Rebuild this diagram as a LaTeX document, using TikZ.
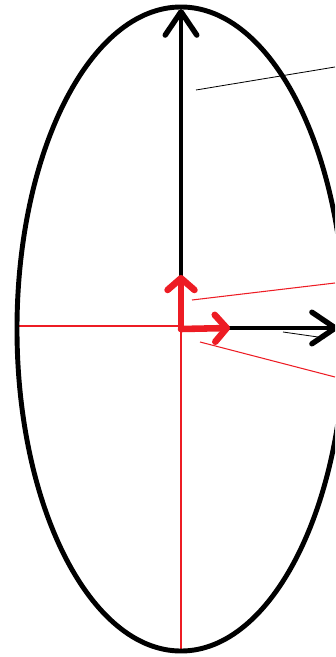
\documentclass[tikz,border=0pt]{standalone}
\usepackage{tikz}
\usetikzlibrary{arrows.meta}
\definecolor{paintred}{RGB}{237,28,36}
\tikzset{
  rimline/.style={line width=4.2pt},
  axisarr/.style={line width=3.6pt, line cap=round,
    -{Straight Barb[length=20pt,width=27pt,round,line width=4.6pt]}},
  framearr/.style={paintred, line width=5.6pt, line cap=round,
    -{Straight Barb[length=10pt,width=23pt,round]}},
  guide/.style={paintred, line width=0.9pt},
  leader/.style={line width=0.7pt},
}
\begin{document}
\begin{tikzpicture}[x=0.03cm, y=-0.03cm]
  \useasboundingbox (0,0) rectangle (335,657);
  \clip (0,0) rectangle (335,657);
  % Points
  \coordinate (O)     at (181,329);
  \coordinate (Top)   at (181,9);
  \coordinate (Ey)    at (181,275);
  \coordinate (Ex)    at (230,328);
  \coordinate (Right) at (338,328);
  \coordinate (Left)  at (19,326);
  \coordinate (Bot)   at (181,652);
  % Leader ends
  \coordinate (La) at (196,90);  \coordinate (Lb) at (335,67);
  \coordinate (Lc) at (192,300); \coordinate (Ld) at (335,283);
  \coordinate (Le) at (200,342); \coordinate (Lf) at (335,377);
  \coordinate (Lg) at (283,332); \coordinate (Lh) at (325,338);
  % Guides
  \draw[guide] (Left) -- (O |- Left);
  \draw[guide] (O) -- (Bot);
  \draw[guide] (Lc) -- (Ld);
  \draw[guide] (Le) -- (Lf);
  % Ellipse
  \draw[rimline] (O) ellipse [x radius=4.92cm, y radius=9.66cm];
  \draw[leader] (La) -- (Lb);
  % Axes
  \draw[axisarr] (Ey) -- (Top);
  \draw[axisarr] (Ex) -- (Right);
  \draw[leader] (Lg) -- (Lh);
  % Local frame
  \draw[framearr] (O) -- (Ey);
  \draw[framearr] (O) -- (Ex);
\end{tikzpicture}
\end{document}
